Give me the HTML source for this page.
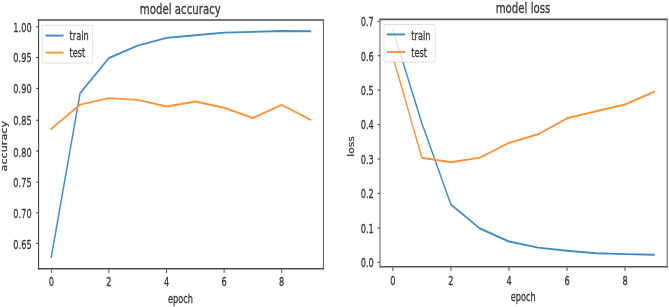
<!DOCTYPE html>
<html><head><meta charset="utf-8"><title>model accuracy / model loss</title>
<style>
html,body{margin:0;padding:0;background:#fff;}
body{width:669px;height:307px;overflow:hidden;}
svg{display:block;font-family:"DejaVu Sans","Liberation Sans",sans-serif;}
</style></head><body>
<svg width="669" height="307" viewBox="0 0 669 307">
<rect width="669" height="307" fill="#fff"/>
<g style="filter:blur(0.55px)">
<g transform="scale(0.84,1.14)" fill="none">
<polyline points="61.071,225.439 95.357,81.842 129.643,50.877 163.929,40.000 198.214,33.246 232.500,30.877 266.786,28.596 301.071,27.982 335.357,27.193 369.643,27.456" stroke="#3f8bc6" stroke-width="1.7" stroke-linejoin="round" stroke-linecap="square"/>
<polyline points="61.071,112.982 95.357,91.754 129.643,86.053 163.929,87.632 198.214,93.421 232.500,89.035 266.786,94.561 301.071,103.509 335.357,91.930 369.643,105.088" stroke="#ff9235" stroke-width="1.7" stroke-linejoin="round" stroke-linecap="square"/>
<path d="M61.071,235.702 L61.071,239.474" stroke="#333" stroke-width="1.0"/>
<path d="M129.643,235.702 L129.643,239.474" stroke="#333" stroke-width="1.0"/>
<path d="M198.214,235.702 L198.214,239.474" stroke="#333" stroke-width="1.0"/>
<path d="M266.786,235.702 L266.786,239.474" stroke="#333" stroke-width="1.0"/>
<path d="M335.357,235.702 L335.357,239.474" stroke="#333" stroke-width="1.0"/>
<path d="M45.952,23.509 L43.333,23.509" stroke="#333" stroke-width="1.0"/>
<path d="M45.952,50.439 L43.333,50.439" stroke="#333" stroke-width="1.0"/>
<path d="M45.952,77.544 L43.333,77.544" stroke="#333" stroke-width="1.0"/>
<path d="M45.952,105.526 L43.333,105.526" stroke="#333" stroke-width="1.0"/>
<path d="M45.952,132.456 L43.333,132.456" stroke="#333" stroke-width="1.0"/>
<path d="M45.952,159.825 L43.333,159.825" stroke="#333" stroke-width="1.0"/>
<path d="M45.952,186.711 L43.333,186.711" stroke="#333" stroke-width="1.0"/>
<path d="M45.952,213.596 L43.333,213.596" stroke="#333" stroke-width="1.0"/>
<rect x="50.238" y="22.105" width="60.000" height="33.158" rx="1.90" ry="1.40" fill="#fff" fill-opacity="0.8" stroke="#ccc" stroke-opacity="0.65" stroke-width="0.9"/>
<path d="M54.048,31.228 L75.595,31.228" stroke="#3f8bc6" stroke-width="1.7"/>
<path d="M54.048,46.140 L75.595,46.140" stroke="#ff9235" stroke-width="1.7"/>
</g>
<path d="M38.10,19.95 H323.90" stroke="#4c4c4c" stroke-width="1.5" fill="none"/>
<path d="M38.10,268.70 H323.90" stroke="#4c4c4c" stroke-width="1.5" fill="none"/>
<path d="M38.60,19.20 V269.45" stroke="#333" stroke-width="1.0" fill="none"/>
<path d="M323.40,19.20 V269.45" stroke="#585858" stroke-width="1.0" fill="none"/>
<text transform="translate(51.30,286.30) scale(0.820,1.270)" font-size="10" text-anchor="middle" fill="#363636" stroke="#363636" stroke-width="0.25">0</text>
<text transform="translate(108.90,286.30) scale(0.820,1.270)" font-size="10" text-anchor="middle" fill="#363636" stroke="#363636" stroke-width="0.25">2</text>
<text transform="translate(166.50,286.30) scale(0.820,1.270)" font-size="10" text-anchor="middle" fill="#363636" stroke="#363636" stroke-width="0.25">4</text>
<text transform="translate(224.10,286.30) scale(0.820,1.270)" font-size="10" text-anchor="middle" fill="#363636" stroke="#363636" stroke-width="0.25">6</text>
<text transform="translate(281.70,286.30) scale(0.820,1.270)" font-size="10" text-anchor="middle" fill="#363636" stroke="#363636" stroke-width="0.25">8</text>
<text transform="translate(31.60,31.50) scale(0.820,1.270)" font-size="10" text-anchor="end" fill="#363636" stroke="#363636" stroke-width="0.25">1.00</text>
<text transform="translate(31.60,62.30) scale(0.820,1.270)" font-size="10" text-anchor="end" fill="#363636" stroke="#363636" stroke-width="0.25">0.95</text>
<text transform="translate(31.60,93.30) scale(0.820,1.270)" font-size="10" text-anchor="end" fill="#363636" stroke="#363636" stroke-width="0.25">0.90</text>
<text transform="translate(31.60,125.40) scale(0.820,1.270)" font-size="10" text-anchor="end" fill="#363636" stroke="#363636" stroke-width="0.25">0.85</text>
<text transform="translate(31.60,156.50) scale(0.820,1.270)" font-size="10" text-anchor="end" fill="#363636" stroke="#363636" stroke-width="0.25">0.80</text>
<text transform="translate(31.60,186.90) scale(0.820,1.270)" font-size="10" text-anchor="end" fill="#363636" stroke="#363636" stroke-width="0.25">0.75</text>
<text transform="translate(31.60,217.80) scale(0.820,1.270)" font-size="10" text-anchor="end" fill="#363636" stroke="#363636" stroke-width="0.25">0.70</text>
<text transform="translate(31.60,248.70) scale(0.820,1.270)" font-size="10" text-anchor="end" fill="#363636" stroke="#363636" stroke-width="0.25">0.65</text>
<text transform="translate(180.50,302.50) scale(0.820,1.270)" font-size="10" text-anchor="middle" fill="#363636" stroke="#363636" stroke-width="0.25">epoch</text>
<text transform="translate(6.60,146.20) scale(0.920,1.120) rotate(-90)" font-size="10" text-anchor="middle" fill="#363636" stroke="#363636" stroke-width="0.25">accuracy</text>
<text transform="translate(180.30,13.70) scale(0.850,1.210)" font-size="12" text-anchor="middle" fill="#363636" stroke="#363636" stroke-width="0.25">model accuracy</text>
<text transform="translate(69.60,39.90) scale(0.820,1.270)" font-size="10" text-anchor="start" fill="#363636" stroke="#363636" stroke-width="0.25">train</text>
<text transform="translate(69.60,56.90) scale(0.820,1.270)" font-size="10" text-anchor="start" fill="#363636" stroke="#363636" stroke-width="0.25">test</text>
<g transform="scale(0.84,1.14)" fill="none">
<polyline points="467.738,26.140 502.286,108.158 536.833,179.474 571.381,200.439 605.929,211.842 640.476,217.193 675.024,219.912 709.571,222.105 744.119,222.895 778.667,223.509" stroke="#3f8bc6" stroke-width="1.7" stroke-linejoin="round" stroke-linecap="square"/>
<polyline points="467.738,49.649 502.286,138.421 536.833,142.368 571.381,138.246 605.929,125.351 640.476,117.807 675.024,103.772 709.571,97.544 744.119,91.667 778.667,80.526" stroke="#ff9235" stroke-width="1.7" stroke-linejoin="round" stroke-linecap="square"/>
<path d="M467.738,233.947 L467.738,237.719" stroke="#333" stroke-width="1.0"/>
<path d="M536.833,233.947 L536.833,237.719" stroke="#333" stroke-width="1.0"/>
<path d="M605.929,233.947 L605.929,237.719" stroke="#333" stroke-width="1.0"/>
<path d="M675.024,233.947 L675.024,237.719" stroke="#333" stroke-width="1.0"/>
<path d="M744.119,233.947 L744.119,237.719" stroke="#333" stroke-width="1.0"/>
<path d="M452.381,230.088 L449.762,230.088" stroke="#333" stroke-width="1.0"/>
<path d="M452.381,199.886 L449.762,199.886" stroke="#333" stroke-width="1.0"/>
<path d="M452.381,169.684 L449.762,169.684" stroke="#333" stroke-width="1.0"/>
<path d="M452.381,139.482 L449.762,139.482" stroke="#333" stroke-width="1.0"/>
<path d="M452.381,109.281 L449.762,109.281" stroke="#333" stroke-width="1.0"/>
<path d="M452.381,79.079 L449.762,79.079" stroke="#333" stroke-width="1.0"/>
<path d="M452.381,48.877 L449.762,48.877" stroke="#333" stroke-width="1.0"/>
<path d="M452.381,18.675 L449.762,18.675" stroke="#333" stroke-width="1.0"/>
<rect x="457.143" y="21.579" width="61.071" height="32.807" rx="1.90" ry="1.40" fill="#fff" fill-opacity="0.8" stroke="#ccc" stroke-opacity="0.65" stroke-width="0.9"/>
<path d="M460.595,30.175 L482.143,30.175" stroke="#3f8bc6" stroke-width="1.7"/>
<path d="M460.595,45.614 L482.143,45.614" stroke="#ff9235" stroke-width="1.7"/>
</g>
<path d="M379.40,19.35 H667.80" stroke="#585858" stroke-width="1.7" fill="none"/>
<path d="M379.40,266.70 H667.80" stroke="#555" stroke-width="1.5" fill="none"/>
<path d="M380.00,18.50 V267.45" stroke="#777" stroke-width="1.2" fill="none"/>
<path d="M667.20,18.50 V267.45" stroke="#777" stroke-width="1.2" fill="none"/>
<text transform="translate(392.90,284.90) scale(0.820,1.270)" font-size="10" text-anchor="middle" fill="#363636" stroke="#363636" stroke-width="0.25">0</text>
<text transform="translate(450.94,284.90) scale(0.820,1.270)" font-size="10" text-anchor="middle" fill="#363636" stroke="#363636" stroke-width="0.25">2</text>
<text transform="translate(508.98,284.90) scale(0.820,1.270)" font-size="10" text-anchor="middle" fill="#363636" stroke="#363636" stroke-width="0.25">4</text>
<text transform="translate(567.02,284.90) scale(0.820,1.270)" font-size="10" text-anchor="middle" fill="#363636" stroke="#363636" stroke-width="0.25">6</text>
<text transform="translate(625.06,284.90) scale(0.820,1.270)" font-size="10" text-anchor="middle" fill="#363636" stroke="#363636" stroke-width="0.25">8</text>
<text transform="translate(373.80,267.20) scale(0.820,1.270)" font-size="10" text-anchor="end" fill="#363636" stroke="#363636" stroke-width="0.25">0.0</text>
<text transform="translate(373.80,232.77) scale(0.820,1.270)" font-size="10" text-anchor="end" fill="#363636" stroke="#363636" stroke-width="0.25">0.1</text>
<text transform="translate(373.80,198.34) scale(0.820,1.270)" font-size="10" text-anchor="end" fill="#363636" stroke="#363636" stroke-width="0.25">0.2</text>
<text transform="translate(373.80,163.91) scale(0.820,1.270)" font-size="10" text-anchor="end" fill="#363636" stroke="#363636" stroke-width="0.25">0.3</text>
<text transform="translate(373.80,129.48) scale(0.820,1.270)" font-size="10" text-anchor="end" fill="#363636" stroke="#363636" stroke-width="0.25">0.4</text>
<text transform="translate(373.80,95.05) scale(0.820,1.270)" font-size="10" text-anchor="end" fill="#363636" stroke="#363636" stroke-width="0.25">0.5</text>
<text transform="translate(373.80,60.62) scale(0.820,1.270)" font-size="10" text-anchor="end" fill="#363636" stroke="#363636" stroke-width="0.25">0.6</text>
<text transform="translate(373.80,26.19) scale(0.820,1.270)" font-size="10" text-anchor="end" fill="#363636" stroke="#363636" stroke-width="0.25">0.7</text>
<text transform="translate(523.30,301.10) scale(0.820,1.270)" font-size="10" text-anchor="middle" fill="#363636" stroke="#363636" stroke-width="0.25">epoch</text>
<text transform="translate(354.30,146.50) scale(0.920,1.070) rotate(-90)" font-size="10" text-anchor="middle" fill="#363636" stroke="#363636" stroke-width="0.25">loss</text>
<text transform="translate(523.00,13.10) scale(0.850,1.210)" font-size="12" text-anchor="middle" fill="#363636" stroke="#363636" stroke-width="0.25">model loss</text>
<text transform="translate(411.30,39.60) scale(0.820,1.270)" font-size="10" text-anchor="start" fill="#363636" stroke="#363636" stroke-width="0.25">train</text>
<text transform="translate(411.30,56.60) scale(0.820,1.270)" font-size="10" text-anchor="start" fill="#363636" stroke="#363636" stroke-width="0.25">test</text>
</g>
</svg>
</body></html>
